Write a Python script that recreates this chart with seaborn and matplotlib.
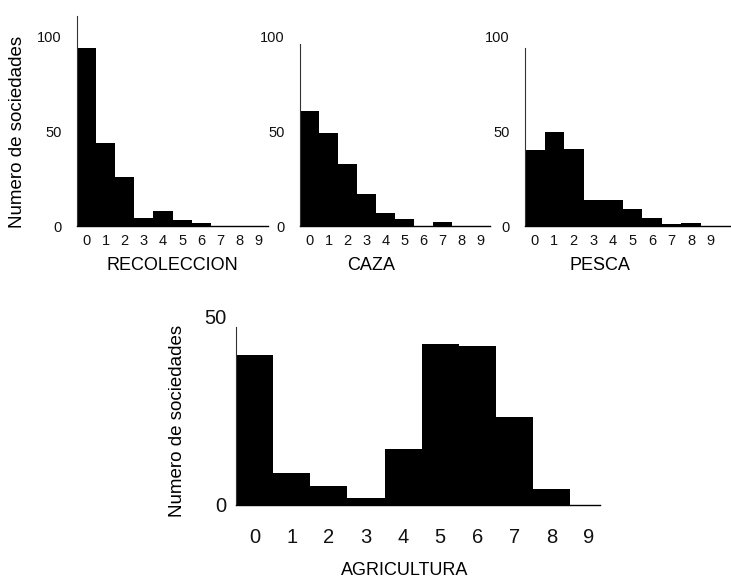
#!/usr/bin/env python3
"""
Numero de sociedades por categoria (recoleccion, caza, pesca, agricultura)
"""

import matplotlib
matplotlib.use("Agg")
import matplotlib.pyplot as plt
import seaborn as sns
import pandas as pd

# escala 0-9 (dependencia de cada actividad)
escala = [0, 1, 2, 3, 4, 5, 6, 7, 8, 9]

recoleccion = [94, 44, 26, 4, 8, 3, 1.7, 0, 0, 0]
caza = [61, 49, 33, 17, 7, 3.7, 0, 2, 0, 0]
pesca = [40, 49.5, 40.5, 14, 14, 9, 4, 1, 1.6, 0]
agricultura = [40, 8.6, 5.1, 1.8, 15, 42.7, 42.3, 23.5, 4.2, 0]

ylabel_txt = "Numero de sociedades"

W, H = 731, 578


def px_axes(fig, left, right, bottom, height):
    # convierte pixeles (desde arriba) a fracciones de la figura
    return fig.add_axes([left / W, (H - bottom) / H, (right - left) / W, height / H])


def draw_panel(ax, values, xlim, ylim, spine_top, yticks, tick_fs, ypad, xpad):
    df = pd.DataFrame({"x": escala, "y": values})
    sns.barplot(data=df, x="x", y="y", color="black", width=1.0,
                saturation=1, linewidth=0, ax=ax)
    ax.set_xlim(*xlim)
    ax.set_ylim(*ylim)
    ax.set_yticks(yticks)
    ax.set_yticklabels([str(t) for t in yticks])
    ax.set_xticks(range(len(escala)))
    ax.set_xticklabels([str(e) for e in escala])
    ax.tick_params(axis="both", length=0, labelsize=tick_fs, labelcolor="#111111")
    ax.tick_params(axis="y", pad=ypad)
    ax.tick_params(axis="x", pad=xpad)
    for s in ["top", "right"]:
        ax.spines[s].set_visible(False)
    ax.spines["left"].set_bounds(0, spine_top)
    ax.spines["left"].set_linewidth(0.8)
    ax.spines["left"].set_color("#333333")
    ax.spines["bottom"].set_linewidth(1.0)
    ax.spines["bottom"].set_color("black")
    ax.set_ylabel("")
    ax.set_facecolor("white")


sns.set_theme(style="white")
plt.rcParams["font.family"] = ["Liberation Sans", "DejaVu Sans"]

fig = plt.figure(figsize=(W / 100, H / 100), dpi=100)
fig.patch.set_facecolor("white")

top_h = 212
paneles = [
    (recoleccion, "RECOLECCION", 77, 268, (-0.5, 9.5), 111, 0.5),
    (caza, "CAZA", 300, 490, (-0.5, 9.5), 96, 0.374),
    (pesca, "PESCA", 525, 730, (-0.5, 10.0), 94, 0.366),
]
for vals, nombre, l, r, xl, sp_top, lab_x in paneles:
    ax = px_axes(fig, l, r, 226, top_h)
    draw_panel(ax, vals, xl, (0, 112), sp_top, [0, 50, 100], 10.5, 11, 6)
    ax.set_xlabel(nombre, fontsize=13, color="black")
    ax.xaxis.set_label_coords(lab_x, -0.146)
    ax.xaxis.label.set_va("top")

ax4 = px_axes(fig, 236, 600, 505, 188)
draw_panel(ax4, agricultura, (-0.5, 9.3), (0, 50), 47.3, [0, 50], 14.5, 7, 16.5)
ax4.set_xlabel("AGRICULTURA", fontsize=13, color="black")
ax4.xaxis.set_label_coords((405 - 236) / (600 - 236), -0.303)
ax4.xaxis.label.set_va("top")

fig.text(18 / W, 1 - 132 / H, ylabel_txt, rotation=90, ha="center", va="center",
         fontsize=13.5, color="black")
fig.text(178 / W, 1 - 421 / H, ylabel_txt, rotation=90, ha="center", va="center",
         fontsize=13.5, color="black")

fig.savefig("out.png", dpi=100, facecolor="white")
plt.close(fig)
